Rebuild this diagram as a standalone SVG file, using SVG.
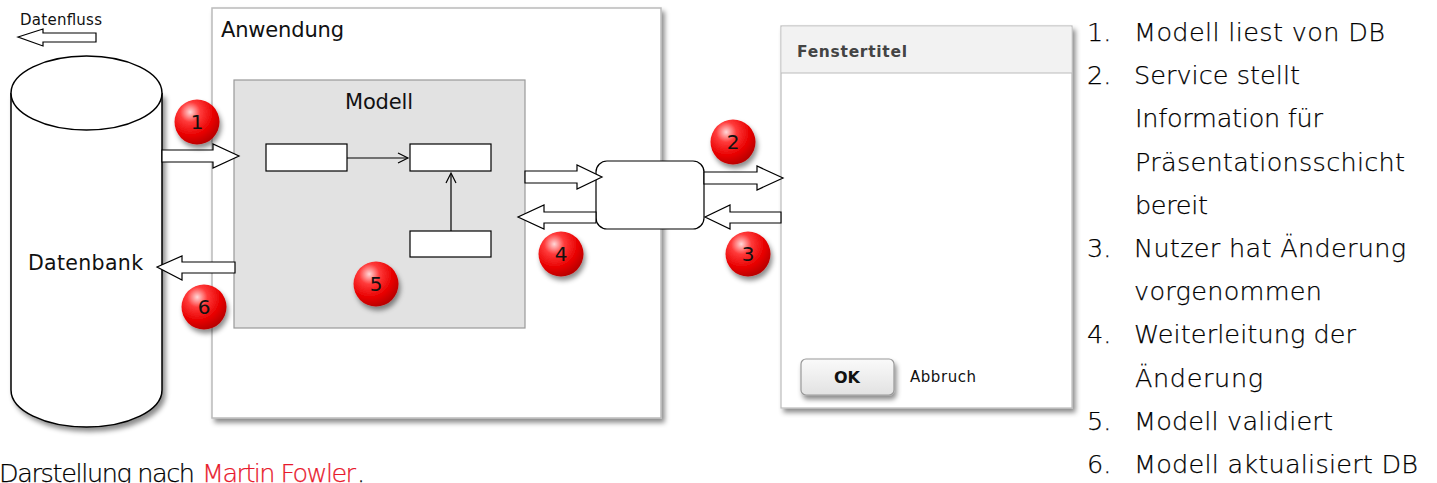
<svg xmlns="http://www.w3.org/2000/svg" width="1437" height="483" viewBox="0 0 1437 483">
<defs>
<style>
.t{font-family:"DejaVu Sans","Liberation Sans",Arial,sans-serif;fill:#111}
.list{font-family:"DejaVu Sans","Liberation Sans",Arial,sans-serif;font-size:25.5px;font-weight:300;fill:#000;stroke:#000;stroke-width:0.25}
.hollow{fill:#fff;stroke:#000;stroke-width:1.2;stroke-linejoin:miter}
.thin{fill:none;stroke:#000;stroke-width:1.2}
.wrect{fill:#fff;stroke:#000;stroke-width:1.2}
.num{font-family:"DejaVu Sans","Liberation Sans",Arial,sans-serif;font-size:20px;fill:#111;text-anchor:middle}
</style>
<radialGradient id="red" cx="0.35" cy="0.28" r="0.75">
<stop offset="0" stop-color="#ffd8d8"/>
<stop offset="0.3" stop-color="#ff3a3a"/>
<stop offset="0.7" stop-color="#e80000"/>
<stop offset="1" stop-color="#b80000"/>
</radialGradient>
<linearGradient id="btn" x1="0" y1="0" x2="0" y2="1">
<stop offset="0" stop-color="#fafafa"/>
<stop offset="1" stop-color="#e2e2e2"/>
</linearGradient>
<filter id="sh" x="-10%" y="-10%" width="130%" height="130%">
<feDropShadow dx="3" dy="4" stdDeviation="2.5" flood-color="#000" flood-opacity="0.45"/>
</filter>
<filter id="bsh" x="-30%" y="-30%" width="170%" height="170%">
<feDropShadow dx="2" dy="4" stdDeviation="2.5" flood-color="#000" flood-opacity="0.45"/>
</filter>
</defs>

<rect width="1437" height="483" fill="#fff"/>

<!-- legend -->
<g id="legend">
<text class="t" x="20" y="25" font-size="15" textLength="82">Datenfluss</text>
<polygon class="hollow" points="18,37 43,29 43,33 96,33 96,42 43,42 43,46"/>
</g>

<!-- database -->
<g id="datenbank">
<path d="M11,93 L11,390 A75.5,37 0 0 0 162,390 L162,93" fill="#fff" stroke="#000" stroke-width="1.5" filter="url(#sh)"/>
<ellipse cx="86.5" cy="93" rx="75.5" ry="37" fill="#fff" stroke="#000" stroke-width="1.5"/>
<text class="t" x="28" y="270" font-size="20.5" textLength="115">Datenbank</text>
</g>

<!-- application -->
<g id="anwendung">
<rect x="212" y="8" width="449" height="410" fill="#fff" stroke="#bbb" stroke-width="1.5" filter="url(#sh)"/>
<text class="t" x="221" y="37" font-size="21" textLength="123">Anwendung</text>
</g>

<g id="modell">
<rect x="234" y="80" width="291" height="248" fill="#e2e2e2" stroke="#999" stroke-width="1.2"/>
<text class="t" x="345" y="109" font-size="21" textLength="68">Modell</text>
</g>
<g id="m-a"><rect class="wrect" x="266" y="144" width="81" height="27"/></g>
<g id="m-b"><rect class="wrect" x="410" y="144" width="81" height="27"/></g>
<g id="m-c"><rect class="wrect" x="410" y="231" width="81" height="26"/></g>

<!-- service -->
<g id="service">
<rect x="596" y="161" width="108" height="68" rx="11" fill="#fff" stroke="#000" stroke-width="1.2"/>
</g>

<!-- window -->
<g id="fenster">
<rect x="781" y="26" width="291" height="382" fill="#fff" stroke="#bbb" stroke-width="1.2" filter="url(#sh)"/>
<rect x="781.6" y="26.6" width="289.8" height="46.4" fill="#f2f2f2"/>
<line x1="781" y1="73" x2="1072" y2="73" stroke="#bbb" stroke-width="1.2"/>
<text x="797" y="57" font-family="'DejaVu Sans','Liberation Sans',Arial,sans-serif" font-size="15.5" font-weight="bold" fill="#444" textLength="110">Fenstertitel</text>
<rect x="801" y="359" width="93" height="36" rx="5" fill="url(#btn)" stroke="#999" stroke-width="1.2" filter="url(#bsh)"/>
<text x="847" y="383" font-family="'DejaVu Sans','Liberation Sans',Arial,sans-serif" font-size="16" font-weight="bold" fill="#111" text-anchor="middle">OK</text>
<text class="t" x="910" y="382" font-size="15" textLength="66">Abbruch</text>
</g>

<!-- connectors -->
<g id="connectors">
<polygon class="hollow" points="162,150 213,150 213,144 239,156 213,168 213,162 162,162"/>
<polygon class="hollow" points="235,262 182,262 182,256 157,267 182,280 182,273 235,273"/>
<polygon class="hollow" points="525,171 577,171 577,165 602,177 577,189 577,183 525,183"/>
<polygon class="hollow" points="596,212 544,212 544,205 518,217 544,229 544,223 596,223"/>
<polygon class="hollow" points="704,172 757,172 757,166 783,178 757,190 757,184 704,184"/>
<polygon class="hollow" points="781,212 730,212 730,205 705,217 730,229 730,223 781,223"/>
<line class="thin" x1="347" y1="158" x2="407" y2="158"/>
<polyline class="thin" points="398,153 408,158 398,163"/>
<line class="thin" x1="451" y1="231" x2="451" y2="174"/>
<polyline class="thin" points="446,183 451,173 456,183"/>
</g>

<!-- badges -->
<g id="badge1"><circle cx="197" cy="122" r="22.5" fill="url(#red)" filter="url(#bsh)"/><text class="num" x="197" y="129">1</text></g>
<g id="badge2"><circle cx="733" cy="142" r="22.5" fill="url(#red)" filter="url(#bsh)"/><text class="num" x="733" y="149">2</text></g>
<g id="badge3"><circle cx="748" cy="254" r="22.5" fill="url(#red)" filter="url(#bsh)"/><text class="num" x="748" y="261">3</text></g>
<g id="badge4"><circle cx="561" cy="254" r="22.5" fill="url(#red)" filter="url(#bsh)"/><text class="num" x="561" y="261">4</text></g>
<g id="badge5"><circle cx="376" cy="284" r="22.5" fill="url(#red)" filter="url(#bsh)"/><text class="num" x="376" y="291">5</text></g>
<g id="badge6"><circle cx="204" cy="307" r="22.5" fill="url(#red)" filter="url(#bsh)"/><text class="num" x="204" y="314">6</text></g>

<!-- list -->
<g id="liste">
<text class="list" x="1087" y="41">1.</text>
<text class="list" x="1134" y="41" textLength="251">Modell liest von DB</text>
<text class="list" x="1087" y="84">2.</text>
<text class="list" x="1134" y="84" textLength="166">Service stellt</text>
<text class="list" x="1135" y="127" textLength="188">Information für</text>
<text class="list" x="1135" y="171" textLength="270">Präsentationsschicht</text>
<text class="list" x="1135" y="214" textLength="73">bereit</text>
<text class="list" x="1087" y="257">3.</text>
<text class="list" x="1134" y="257" textLength="272">Nutzer hat Änderung</text>
<text class="list" x="1134" y="300" textLength="188">vorgenommen</text>
<text class="list" x="1087" y="343">4.</text>
<text class="list" x="1134" y="343" textLength="222">Weiterleitung der</text>
<text class="list" x="1135" y="387" textLength="128">Änderung</text>
<text class="list" x="1087" y="430">5.</text>
<text class="list" x="1134" y="430" textLength="199">Modell validiert</text>
<text class="list" x="1087" y="473">6.</text>
<text class="list" x="1134" y="473" textLength="284">Modell aktualisiert DB</text>
</g>

<!-- caption -->
<g id="caption">
<text class="list" x="-1" y="482" textLength="196">Darstellung nach</text>
<text class="list" x="202" y="482" textLength="154" style="fill:#e8192c;stroke:#e8192c">Martin Fowler</text>
<text class="list" x="357" y="482">.</text>
</g>
</svg>
